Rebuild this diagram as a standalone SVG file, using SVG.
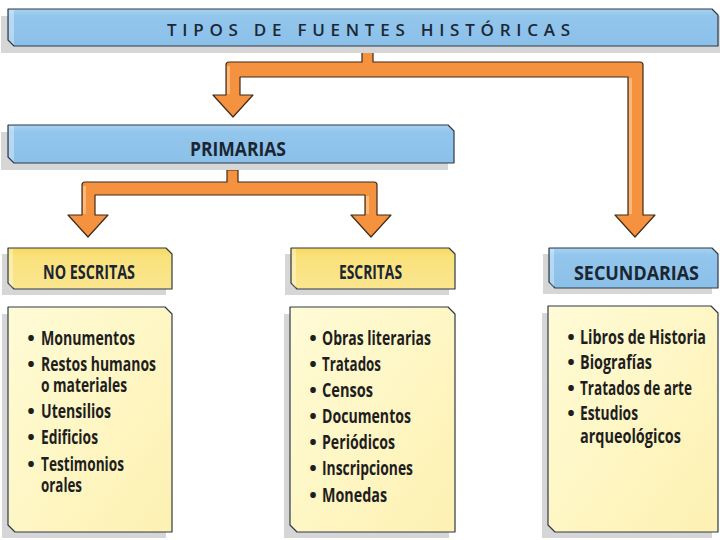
<svg xmlns="http://www.w3.org/2000/svg" width="720" height="540" viewBox="0 0 720 540">
<defs>
<linearGradient id="gBlue" x1="0" y1="0" x2="0" y2="1">
<stop offset="0" stop-color="#a9d2f1"/><stop offset="0.18" stop-color="#93c6ec"/><stop offset="1" stop-color="#8bc0e9"/>
</linearGradient>
<linearGradient id="gYel" x1="0" y1="0" x2="0" y2="1">
<stop offset="0" stop-color="#f6d860"/><stop offset="0.2" stop-color="#f9e17a"/><stop offset="1" stop-color="#fbe690"/>
</linearGradient>
<linearGradient id="gPale" x1="0" y1="0" x2="1" y2="1">
<stop offset="0" stop-color="#fffbd6"/><stop offset="1" stop-color="#fdf1b2"/>
</linearGradient>
<style>
.sh{fill:#d6d6d6}
.bx{stroke:#2e3947;stroke-width:1.2;stroke-linejoin:round}
.blue{fill:url(#gBlue)}
.yel{fill:url(#gYel)}
.pale{fill:url(#gPale)}
.bev{fill:#ffffff;fill-opacity:0.35}
.conn{fill:#f4923f;stroke:#3f2a18;stroke-width:1.2;stroke-linejoin:round}
.hl{fill:#f9b97c}
.ttl{font-family:"Open Sans","Liberation Sans",sans-serif;font-weight:600;font-size:17px;fill:#1b2836}
.hdr{font-family:"Open Sans","Liberation Sans",sans-serif;font-weight:700;font-size:20px;fill:#1b2633}
.it{font-family:"Open Sans","Liberation Sans",sans-serif;font-weight:700;font-size:20px;fill:#1e1e1e}
.bul{font-family:"Open Sans","Liberation Sans",sans-serif;font-weight:700;font-size:20px;fill:#1e1e1e;text-anchor:middle}
</style>
</defs>
<rect width="720" height="540" fill="#ffffff"/>

<g id="connectors">
<path class="conn" d="M226,65 Q226,62 229,62 L362,62 L362,52 L373,52 L373,62 L640,62 Q643,62 643,65 L643,215 L655,215 L635,237 L615,215 L628,215 L628,77 L240,77 L240,95 L253,95 L233,117 L213,95 L226,95 Z"/>
<rect class="hl" x="629" y="78" width="3" height="136"/>
<rect class="hl" x="227" y="66" width="3" height="28"/>
<path class="conn" d="M82,185 Q82,182 85,182 L227,182 L227,170 L238,170 L238,182 L374,182 Q377,182 377,185 L377,215 L391,215 L371,237 L351,215 L365,215 L365,195 L95,195 L95,215 L108,215 L88,237 L68,215 L82,215 Z"/>
<rect class="hl" x="366" y="196" width="3" height="18"/>
<rect class="hl" x="83" y="186" width="3" height="28"/>
</g>

<g id="title">
<rect class="sh" x="1" y="16" width="719" height="37"/>
<polygon class="bx blue" points="8,9 712,9 718,15 718,46 14,46 8,40"/>
<polygon class="bev" points="9,10 14,10 14,45 9,40"/>
<text class="ttl" x="167" y="36" textLength="403" lengthAdjust="spacing">TIPOS DE FUENTES HISTÓRICAS</text>
</g>

<g id="primarias">
<rect class="sh" x="1" y="132" width="447" height="38"/>
<polygon class="bx blue" points="8,125 448,125 454,131 454,163 14,163 8,157"/>
<polygon class="bev" points="9,126 14,126 14,162 9,157"/>
<text class="hdr" x="190" y="156" textLength="96" lengthAdjust="spacingAndGlyphs">PRIMARIAS</text>
</g>

<g id="no-escritas">
<rect class="sh" x="2" y="254" width="164" height="41"/>
<polygon class="bx yel" points="8,248 166,248 172,254 172,289 14,289 8,283"/>
<polygon class="bev" points="9,249 13,249 13,288 9,284"/>
<text class="hdr" x="43" y="279" textLength="92" lengthAdjust="spacingAndGlyphs">NO ESCRITAS</text>
</g>

<g id="escritas">
<rect class="sh" x="285" y="254" width="164" height="41"/>
<polygon class="bx yel" points="291,248 449,248 455,254 455,289 297,289 291,283"/>
<polygon class="bev" points="292,249 296,249 296,288 292,284"/>
<text class="hdr" x="339" y="279" textLength="63" lengthAdjust="spacingAndGlyphs">ESCRITAS</text>
</g>

<g id="secundarias">
<rect class="sh" x="543" y="254" width="169" height="40"/>
<polygon class="bx blue" points="549,248 712,248 718,254 718,288 555,288 549,282"/>
<polygon class="bev" points="550,249 554,249 554,287 550,283"/>
<text class="hdr" x="574" y="280" textLength="125" lengthAdjust="spacingAndGlyphs">SECUNDARIAS</text>
</g>

<g id="no-escritas-list">
<rect class="sh" x="2" y="314" width="164" height="224"/>
<polygon class="bx pale" points="8,307 165,307 172,314 172,532 15,532 8,525"/>
<text class="bul" x="31" y="345">•</text>
<text class="it" x="41" y="345" textLength="94" lengthAdjust="spacingAndGlyphs">Monumentos</text>
<text class="bul" x="31" y="371">•</text>
<text class="it" x="41" y="371" textLength="115" lengthAdjust="spacingAndGlyphs">Restos humanos</text>
<text class="it" x="41" y="392" textLength="86" lengthAdjust="spacingAndGlyphs">o materiales</text>
<text class="bul" x="31" y="418">•</text>
<text class="it" x="41" y="418" textLength="70" lengthAdjust="spacingAndGlyphs">Utensilios</text>
<text class="bul" x="31" y="444">•</text>
<text class="it" x="41" y="444" textLength="57" lengthAdjust="spacingAndGlyphs">Edificios</text>
<text class="bul" x="31" y="471">•</text>
<text class="it" x="41" y="471" textLength="83" lengthAdjust="spacingAndGlyphs">Testimonios</text>
<text class="it" x="41" y="492" textLength="41" lengthAdjust="spacingAndGlyphs">orales</text>
</g>

<g id="escritas-list">
<rect class="sh" x="284" y="314" width="165" height="224"/>
<polygon class="bx pale" points="290,307 448,307 455,314 455,532 297,532 290,525"/>
<text class="bul" x="313" y="345">•</text>
<text class="it" x="322" y="345" textLength="109" lengthAdjust="spacingAndGlyphs">Obras literarias</text>
<text class="bul" x="313" y="371">•</text>
<text class="it" x="322" y="371" textLength="59" lengthAdjust="spacingAndGlyphs">Tratados</text>
<text class="bul" x="313" y="397">•</text>
<text class="it" x="322" y="397" textLength="51" lengthAdjust="spacingAndGlyphs">Censos</text>
<text class="bul" x="313" y="423">•</text>
<text class="it" x="322" y="423" textLength="89" lengthAdjust="spacingAndGlyphs">Documentos</text>
<text class="bul" x="313" y="449">•</text>
<text class="it" x="322" y="449" textLength="73" lengthAdjust="spacingAndGlyphs">Periódicos</text>
<text class="bul" x="313" y="475">•</text>
<text class="it" x="322" y="475" textLength="91" lengthAdjust="spacingAndGlyphs">Inscripciones</text>
<text class="bul" x="313" y="502">•</text>
<text class="it" x="322" y="502" textLength="65" lengthAdjust="spacingAndGlyphs">Monedas</text>
</g>

<g id="secundarias-list">
<rect class="sh" x="542" y="313" width="170" height="225"/>
<polygon class="bx pale" points="548,306 711,306 718,313 718,532 555,532 548,525"/>
<text class="bul" x="571" y="344">•</text>
<text class="it" x="580" y="344" textLength="126" lengthAdjust="spacingAndGlyphs">Libros de Historia</text>
<text class="bul" x="571" y="369">•</text>
<text class="it" x="580" y="369" textLength="72" lengthAdjust="spacingAndGlyphs">Biografías</text>
<text class="bul" x="571" y="395">•</text>
<text class="it" x="580" y="395" textLength="112" lengthAdjust="spacingAndGlyphs">Tratados de arte</text>
<text class="bul" x="571" y="420">•</text>
<text class="it" x="580" y="420" textLength="58" lengthAdjust="spacingAndGlyphs">Estudios</text>
<text class="it" x="580" y="443" textLength="101" lengthAdjust="spacingAndGlyphs">arqueológicos</text>
</g>
</svg>
